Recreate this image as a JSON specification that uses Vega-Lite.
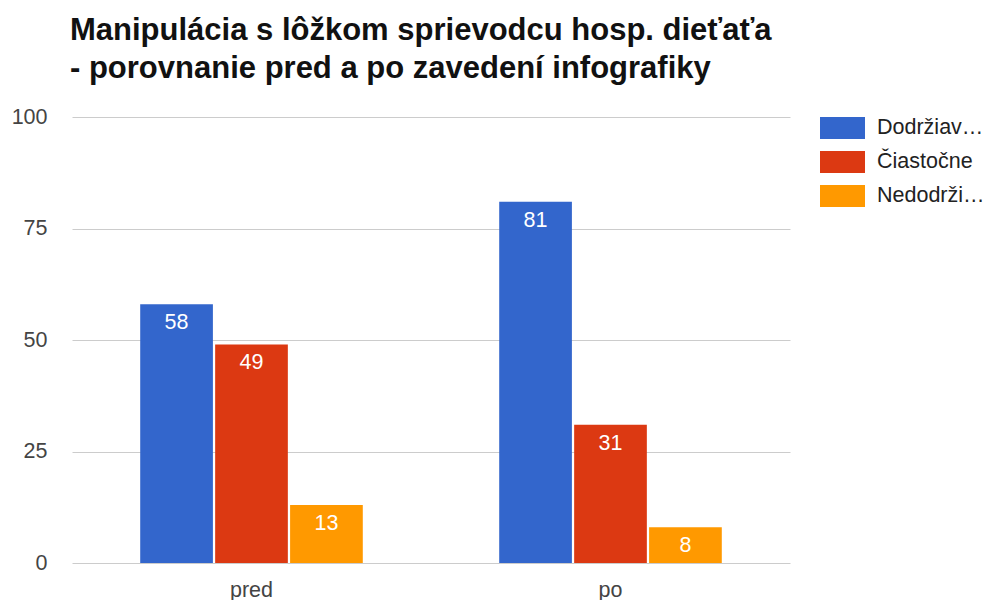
{
  "$schema": "https://vega.github.io/schema/vega-lite/v6.json",
  "width": 718,
  "height": 446,
  "autosize": {"type": "none"},
  "padding": {"left": 72, "top": 117, "right": 203, "bottom": 37},
  "background": "#ffffff",
  "title": {
    "text": ["Manipulácia s lôžkom sprievodcu hosp. dieťaťa", "- porovnanie pred a po zavedení infografiky"],
    "anchor": "start",
    "frame": "group",
    "font": "Liberation Sans",
    "fontSize": 31,
    "fontWeight": "bold",
    "color": "#111111",
    "lineHeight": 38,
    "offset": 21,
    "dx": -2
  },
  "data": {
    "values": [
      {"obdobie": "pred", "kategoria": "Dodržiavanie", "hodnota": 58},
      {"obdobie": "pred", "kategoria": "Čiastočne", "hodnota": 49},
      {"obdobie": "pred", "kategoria": "Nedodržiavanie", "hodnota": 13},
      {"obdobie": "po", "kategoria": "Dodržiavanie", "hodnota": 81},
      {"obdobie": "po", "kategoria": "Čiastočne", "hodnota": 31},
      {"obdobie": "po", "kategoria": "Nedodržiavanie", "hodnota": 8}
    ]
  },
  "encoding": {
    "x": {
      "field": "obdobie",
      "type": "nominal",
      "sort": ["pred", "po"],
      "scale": {"paddingInner": 0.38, "paddingOuter": 0.19},
      "axis": {
        "title": null,
        "labelAngle": 0,
        "domain": false,
        "ticks": false,
        "labelFont": "Liberation Sans",
        "labelFontSize": 21.5,
        "labelColor": "#444444",
        "labelPadding": 16
      }
    },
    "xOffset": {
      "field": "kategoria",
      "type": "nominal",
      "sort": ["Dodržiavanie", "Čiastočne", "Nedodržiavanie"],
      "scale": {"paddingInner": 0.03}
    },
    "y": {
      "field": "hodnota",
      "type": "quantitative",
      "scale": {"domain": [0, 100]},
      "axis": {
        "title": null,
        "values": [0, 25, 50, 75, 100],
        "domain": false,
        "ticks": false,
        "gridColor": "#cccccc",
        "labelFont": "Liberation Sans",
        "labelFontSize": 21.5,
        "labelColor": "#444444",
        "labelPadding": 25
      }
    }
  },
  "layer": [
    {
      "mark": {"type": "bar"},
      "encoding": {
        "color": {
          "field": "kategoria",
          "type": "nominal",
          "sort": ["Dodržiavanie", "Čiastočne", "Nedodržiavanie"],
          "scale": {
            "domain": ["Dodržiavanie", "Čiastočne", "Nedodržiavanie"],
            "range": ["#3366cc", "#dc3912", "#ff9900"]
          },
          "legend": {
            "title": null,
            "orient": "none",
            "legendX": 748,
            "legendY": -11.5,
            "symbolType": "M-1,-0.49H1V0.49H-1Z",
            "symbolSize": 2025,
            "symbolStrokeWidth": 0,
            "symbolOpacity": 1,
            "labelFont": "Liberation Sans",
            "labelFontSize": 21.5,
            "labelColor": "#222222",
            "labelLimit": 110,
            "labelOffset": 12,
            "rowPadding": -13.5
          }
        }
      }
    },
    {
      "mark": {
        "type": "text",
        "baseline": "top",
        "dy": 8,
        "color": "#ffffff",
        "font": "Liberation Sans",
        "fontSize": 21.5
      },
      "encoding": {
        "text": {"field": "hodnota", "type": "quantitative"}
      }
    },
    {
      "mark": {"type": "rule", "color": "#333333", "strokeWidth": 1.5},
      "encoding": {"y": {"datum": 0}}
    }
  ],
  "config": {
    "view": {"stroke": null}
  }
}
